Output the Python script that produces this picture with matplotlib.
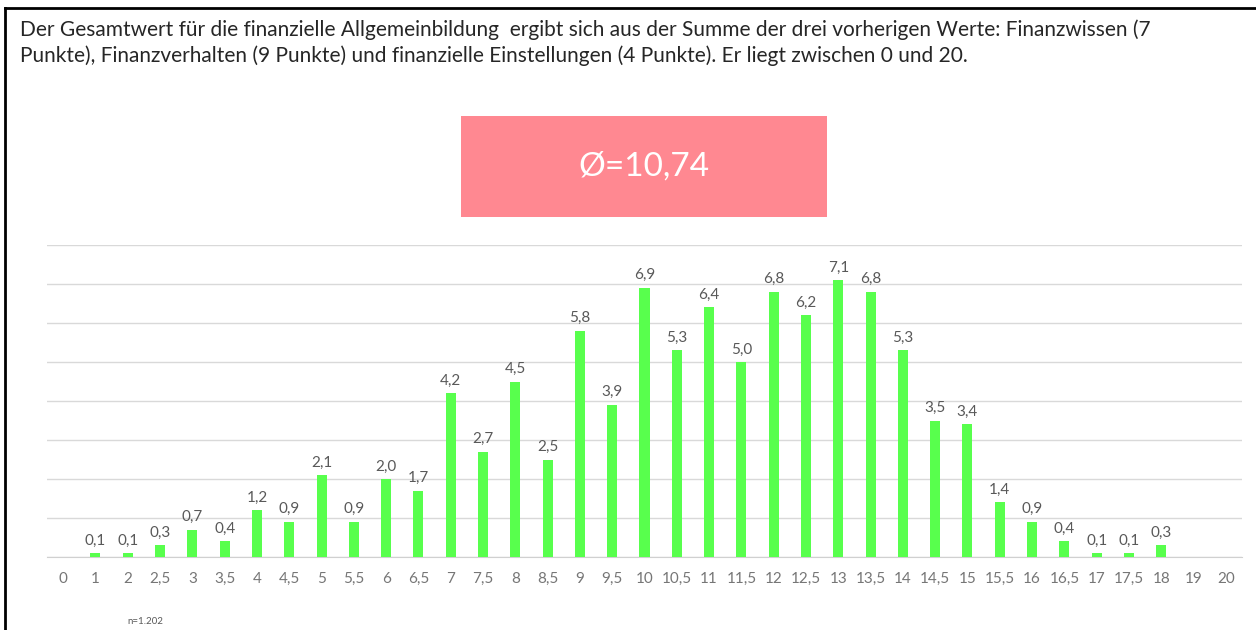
import matplotlib
matplotlib.use('Agg')

import matplotlib.pyplot as plt
from matplotlib.lines import Line2D
from matplotlib.patches import Rectangle

# score categories (x axis) and share of respondents in %
categories = ['0', '1', '2', '2,5', '3', '3,5', '4', '4,5', '5', '5,5', '6', '6,5',
              '7', '7,5', '8', '8,5', '9', '9,5', '10', '10,5', '11', '11,5', '12',
              '12,5', '13', '13,5', '14', '14,5', '15', '15,5', '16', '16,5', '17',
              '17,5', '18', '19', '20']
values = [None, 0.1, 0.1, 0.3, 0.7, 0.4, 1.2, 0.9, 2.1, 0.9, 2.0, 1.7,
          4.2, 2.7, 4.5, 2.5, 5.8, 3.9, 6.9, 5.3, 6.4, 5.0, 6.8,
          6.2, 7.1, 6.8, 5.3, 3.5, 3.4, 1.4, 0.9, 0.4, 0.1,
          0.1, 0.3, None, None]

title = (u'Der Gesamtwert für die finanzielle Allgemeinbildung  ergibt sich aus der Summe der drei vorherigen Werte: Finanzwissen (7\n'
         u'Punkte), Finanzverhalten (9 Punkte) und finanzielle Einstellungen (4 Punkte). Er liegt zwischen 0 und 20.')
mean_label = u'Ø=10,74'
n_label = 'n=1.202'

plt.rcParams['font.family'] = ['Lato', 'DejaVu Sans']

W, H = 1256, 630
fig = plt.figure(figsize=(W / 100, H / 100), dpi=100)

# frame lines (left and top)
fig.add_artist(Line2D([5 / W, 5 / W], [0, 1 - 8 / H], color='black', lw=2))
fig.add_artist(Line2D([5 / W, 1], [1 - 8 / H, 1 - 8 / H], color='black', lw=2))

fig.text(20 / W, 1 - 19 / H, title, fontsize=15, color='#262626',
         va='top', ha='left', linespacing=1.38)

# mean box
fig.add_artist(Rectangle((461 / W, 1 - 217 / H), 366 / W, 101 / H,
                         facecolor='#FF8891', edgecolor='none', transform=fig.transFigure))
fig.text(644 / W, 1 - 167 / H, mean_label, fontsize=24, color='white',
         ha='center', va='center')

ax = fig.add_axes([47 / W, (H - 557) / H, 1195 / W, 312 / H])
x = list(range(len(categories)))
heights = [v if v is not None else 0 for v in values]
ax.bar(x, heights, width=0.31, color='#58FF4D', zorder=3)
for xi, v in zip(x, values):
    if v is None:
        continue
    ax.annotate(('%.1f' % v).replace('.', ','), (xi, v), xytext=(0, 4),
                textcoords='offset points', ha='center', va='bottom',
                fontsize=11, color='#595959')

ax.set_xlim(-0.5, len(categories) - 0.5)
ax.set_ylim(0, 8)
ax.set_yticks(range(0, 9))
ax.yaxis.grid(True, color='#d9d9d9', lw=1)
ax.set_axisbelow(True)
ax.set_yticklabels([])
ax.tick_params(axis='y', length=0)
ax.set_xticks(x)
ax.set_xticklabels(categories, fontsize=11, color='#767676')
ax.tick_params(axis='x', length=0, pad=11)
for s in ['top', 'right', 'left']:
    ax.spines[s].set_visible(False)
ax.spines['bottom'].set_color('#d0d0d0')

fig.text(127 / W, 1 - 621 / H, n_label, fontsize=7, color='#595959', va='center')

plt.savefig('out.png', dpi=100)
